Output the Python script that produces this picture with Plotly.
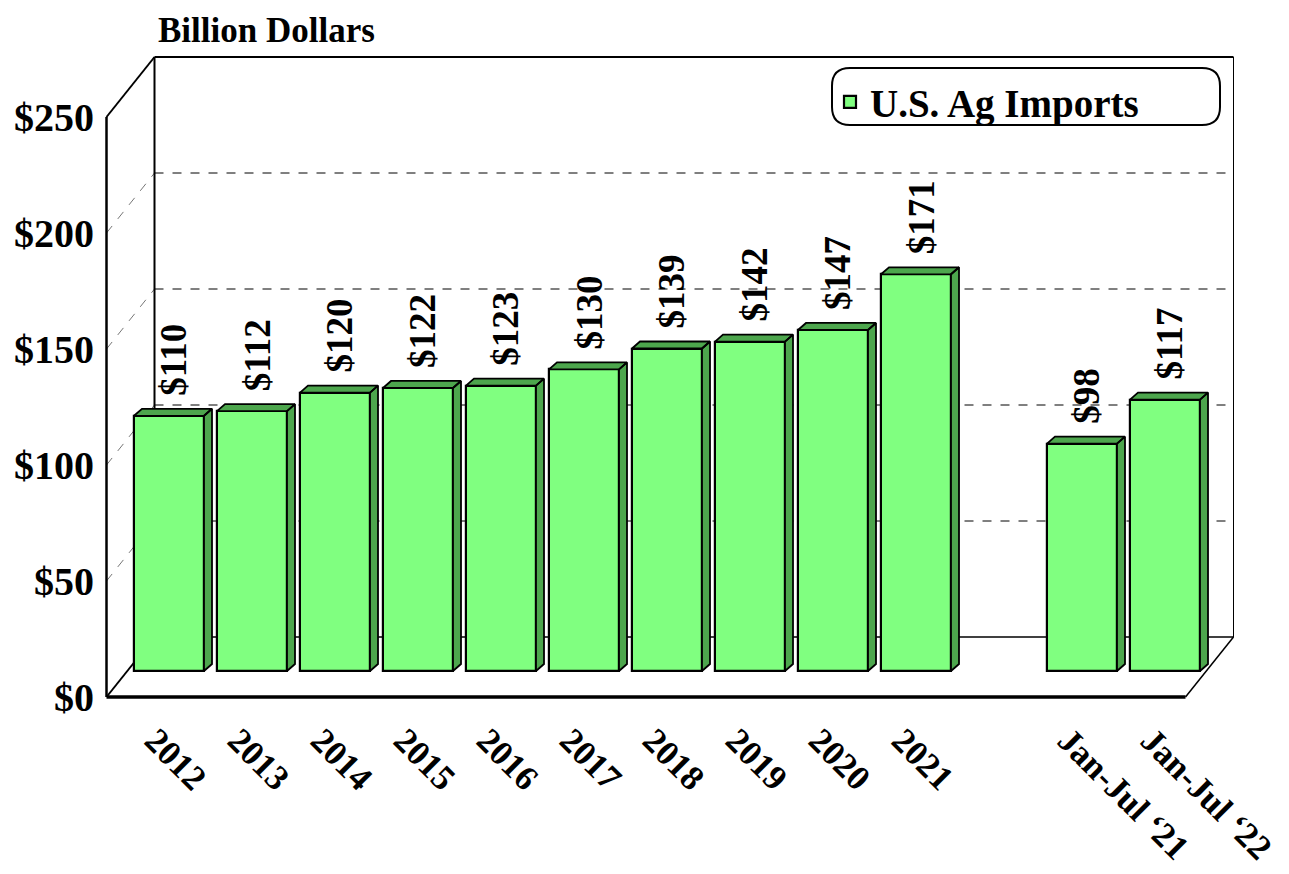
import plotly.graph_objects as go

# ---------------- data ----------------
categories = ["2012", "2013", "2014", "2015", "2016", "2017", "2018", "2019",
              "2020", "2021", "Jan-Jul \u201821", "Jan-Jul \u201822"]
values = [110, 112, 120, 122, 123, 130, 139, 142, 147, 171, 98, 117]
y_ticks = [0, 50, 100, 150, 200, 250]
y_tick_labels = ["$0", "$50", "$100", "$150", "$200", "$250"]
series_name = "U.S. Ag Imports"
axis_title = "Billion Dollars"

# ---------------- layout constants ----------------
W, H = 1289, 874
OFF = 8                           # page body margin in px
GAP_AFTER = 10                    # empty slot after the annual bars
SLOT_PX = 83.0                    # px per category slot
SLOT0_PX = 169.0 - OFF            # px of first slot center
UNIT_PX = 2.32                    # px per billion dollars
ZERO_PX = 671.0 - OFF             # px of zero on the bar plane
PL, PR, PT, PB = 90, 1240, 38, 704   # plot area in figure px

FONT = "Liberation Serif, Times New Roman, serif"
FRONT = "#80FF80"
SIDE = "#4DA64D"

xpos = [i if i < GAP_AFTER else i + 1 for i in range(len(values))]
n_slots = len(values) + 1
bar_w = 70 / SLOT_PX
ddx, ddy = 8 / SLOT_PX, 7 / UNIT_PX          # bar depth
fdx, fdy = -21 / SLOT_PX, -26 / UNIT_PX      # front plane offset
bdx, bdy = 27 / SLOT_PX, 34 / UNIT_PX        # back plane offset
x_lo, x_hi = -0.5, n_slots - 0.5
y_top = y_ticks[-1]

x_range = [(PL - SLOT0_PX) / SLOT_PX, (PR - SLOT0_PX) / SLOT_PX]
y_range = [(ZERO_PX - PB) / UNIT_PX, (ZERO_PX - PT) / UNIT_PX]


def px2paper_x(px):
    px -= OFF
    return (px - PL) / (PR - PL)


def px2paper_y(py):
    py -= OFF
    return (PB - py) / (PB - PT)


fig = go.Figure()

# front faces
fig.add_trace(go.Bar(
    x=xpos, y=values, width=bar_w, name=series_name,
    marker=dict(color=FRONT, line=dict(color="black", width=2.2)),
    showlegend=True, hoverinfo="x+y",
))

# top and side faces (derived from values)
fx, fy = [], []
for xp, v in zip(xpos, values):
    l, r = xp - bar_w / 2, xp + bar_w / 2
    fx += [l, r, r + ddx, l + ddx, l, None]
    fy += [v, v, v + ddy, v + ddy, v, None]
    fx += [r, r + ddx, r + ddx, r, r, None]
    fy += [0, ddy, v + ddy, v, 0, None]
fig.add_trace(go.Scatter(
    x=fx, y=fy, mode="lines", fill="toself", fillcolor=SIDE,
    line=dict(color="black", width=1.8), showlegend=False, hoverinfo="skip",
))

# ---------------- 3D frame ----------------
shapes = []


def seg(x0, y0, x1, y1, width=1.5, dash="solid", color="black"):
    shapes.append(dict(type="line", xref="x", yref="y", x0=x0, y0=y0, x1=x1, y1=y1,
                       layer="below", line=dict(color=color, width=width, dash=dash)))


for v in y_ticks[1:-1]:
    seg(x_lo + bdx, v + bdy, x_hi + bdx, v + bdy, 1, "dash")
    seg(x_lo + fdx, v + fdy, x_lo + bdx, v + bdy, 1, "dash", "#777777")
seg(x_lo + fdx, fdy, x_lo + fdx, y_top + fdy, 2.5)
seg(x_lo + fdx, y_top + fdy, x_lo + bdx, y_top + bdy, 2)
seg(x_lo + fdx, fdy, x_lo + bdx, bdy, 2)
seg(x_lo + bdx, bdy, x_lo + bdx, y_top + bdy, 2)
seg(x_lo + bdx, y_top + bdy, x_hi + bdx, y_top + bdy, 2)
seg(x_hi + bdx, bdy, x_hi + bdx, y_top + bdy, 1)
seg(x_lo + bdx, bdy, x_hi + bdx, bdy, 1.5)
seg(x_lo + fdx, fdy, x_hi + fdx, fdy, 3.5)
seg(x_hi + fdx, fdy, x_hi + bdx, bdy, 1.5)

# rounded legend box
lx0, lx1, ly0, ly1 = px2paper_x(832), px2paper_x(1220), px2paper_y(125), px2paper_y(68)
rx = 18 / (PR - PL)
ry = 18 / (PB - PT)
path = (f"M {lx0 + rx},{ly1} L {lx1 - rx},{ly1} Q {lx1},{ly1} {lx1},{ly1 - ry} "
        f"L {lx1},{ly0 + ry} Q {lx1},{ly0} {lx1 - rx},{ly0} "
        f"L {lx0 + rx},{ly0} Q {lx0},{ly0} {lx0},{ly0 + ry} "
        f"L {lx0},{ly1 - ry} Q {lx0},{ly1} {lx0 + rx},{ly1} Z")
shapes.append(dict(type="path", xref="paper", yref="paper", path=path,
                   line=dict(color="black", width=2), fillcolor="white", layer="below"))

# ---------------- annotations ----------------
annotations = []
for xp, v in zip(xpos, values):
    annotations.append(dict(
        x=xp, y=v, xref="x", yref="y", text=f"${v}", textangle=-90,
        showarrow=False, xanchor="center", yanchor="bottom", xshift=5, yshift=18,
        font=dict(family=FONT, size=37, color="black", weight="bold"),
    ))
annotations.append(dict(
    x=px2paper_x(156), y=px2paper_y(30), xref="paper", yref="paper",
    text=axis_title, showarrow=False, xanchor="left", yanchor="middle",
    font=dict(family=FONT, size=35, color="black", weight="bold"),
))

fig.update_layout(
    width=W, height=H,
    margin=dict(l=PL, r=W - PR, t=PT, b=H - PB, autoexpand=False),
    paper_bgcolor="white", plot_bgcolor="white",
    shapes=shapes, annotations=annotations,
    showlegend=True,
    legend=dict(x=px2paper_x(830), y=px2paper_y(70), xanchor="left", yanchor="top",
                bgcolor="rgba(0,0,0,0)", borderwidth=0,
                font=dict(family=FONT, size=39, color="black", weight="bold")),
    xaxis=dict(range=x_range, tickmode="array", tickvals=xpos, ticktext=categories,
               tickangle=45, showgrid=False, zeroline=False, showline=False, ticks="",
               tickfont=dict(family=FONT, size=35, color="black", weight="bold"),
               ticklabelshift=-14, ticklabelstandoff=0, fixedrange=True),
    yaxis=dict(range=y_range, tickmode="array",
               tickvals=[t + fdy for t in y_ticks], ticktext=y_tick_labels,
               showgrid=False, zeroline=False, showline=False, ticks="",
               tickfont=dict(family=FONT, size=40, color="black", weight="bold"),
               ticklabelstandoff=3, fixedrange=True),
    bargap=0,
)

fig.write_html("out.html")
